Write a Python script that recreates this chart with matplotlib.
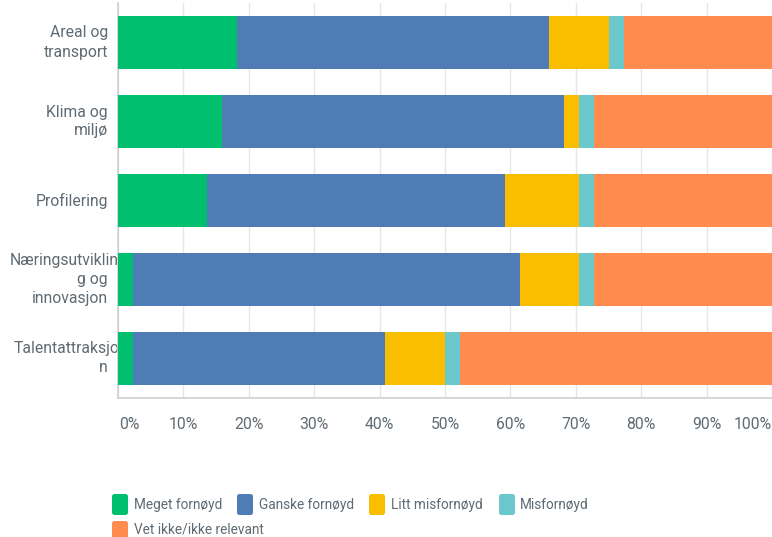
import matplotlib
matplotlib.use("Agg")
import matplotlib.pyplot as plt
from matplotlib.patches import FancyBboxPatch
from matplotlib.transforms import IdentityTransform, blended_transform_factory, offset_copy
import numpy as np

plt.rcParams['font.family'] = ['Roboto', 'DejaVu Sans']

categories = ["Areal og\ntransport", "Klima og\nmiljø", "Profilering",
              "Næringsutviklin\ng og\ninnovasjon", "Talentattraksjo\nn"]
series = ["Meget fornøyd", "Ganske fornøyd", "Litt misfornøyd", "Misfornøyd",
          "Vet ikke/ikke relevant"]
meget = [18.2, 15.9, 13.6, 2.3, 2.3]
ganske = [47.7, 52.3, 45.5, 59.1, 38.6]
litt = [9.1, 2.3, 11.4, 9.1, 9.1]
mis = [2.3, 2.3, 2.3, 2.3, 2.3]
vet = [22.7, 27.3, 27.3, 27.3, 47.7]
tick_vals = [0, 10, 20, 30, 40, 50, 60, 70, 80, 90, 100]
tick_labels = ["0%", "10%", "20%", "30%", "40%", "50%", "60%", "70%", "80%", "90%", "100%"]

colors = ["#00BF6F", "#507CB6", "#F9BE00", "#6BC8CD", "#FF8B4F"]
text_color = "#5f6a72"

W, H = 772, 537
fig = plt.figure(figsize=(W / 100, H / 100), dpi=100)
ax = fig.add_axes([118 / W, 1 - 398 / H, 1 - 118 / W, (398 - 3) / H])

y = np.arange(len(categories))
left = np.zeros(len(categories))
for vals, c in zip([meget, ganske, litt, mis, vet], colors):
    ax.barh(y, vals, left=left, height=0.66, color=c, linewidth=0, zorder=3)
    left += np.array(vals)

ax.set_xlim(0, 100)
ax.set_ylim(len(categories) - 0.5, -0.5)
ax.set_xticks(tick_vals)
ax.set_xticklabels(tick_labels)
ax.grid(axis='x', color='#e6e6e6', lw=1, zorder=0)
ax.set_axisbelow(True)
for s in ['top', 'right']:
    ax.spines[s].set_visible(False)
for s in ['left', 'bottom']:
    ax.spines[s].set_color('#cfcfcf')
    ax.spines[s].set_linewidth(1.2)
ax.tick_params(axis='x', length=0, pad=13.5, labelsize=11.3, labelcolor=text_color)
ax.tick_params(axis='y', length=0, labelleft=False)
ax.set_yticks([])
labs = ax.get_xticklabels()
labs[0].set_ha('left')
labs[0].set_transform(offset_copy(labs[0].get_transform(), fig=fig, x=1, y=0, units='dots'))
labs[-1].set_ha('right')

# category labels (wrapped like the reference)
tr = blended_transform_factory(ax.transAxes, ax.transData)
line_h = 19
for yi, cat in zip(y, categories):
    lines = cat.split("\n")
    n = len(lines)
    for i, ln in enumerate(lines):
        dy = -(i - (n - 1) / 2) * line_h
        dx = -10 if len(ln) < 12 else 1
        t = offset_copy(tr, fig=fig, x=dx, y=dy, units='dots')
        ax.text(0, yi, ln, transform=t, ha='right', va='center', fontsize=11.3,
                color=text_color, zorder=1, clip_on=False)

# legend (flow layout like the reference)
items = [(112, 22, 134, 28.5), (237, 22, 259, 28.5), (369, 22, 391, 28.5), (499, 22, 520, 28.5),
         (112, -5, 134, 3.5)]
for (px, py, tx, ty), name, c in zip(items, series, colors):
    p = FancyBboxPatch((px, py), 16, 21, boxstyle="round,pad=0,rounding_size=2.5",
                       transform=IdentityTransform(), facecolor=c, edgecolor='none')
    fig.patches.append(p)
    fig.text(tx / W, ty / H, name, ha='left', va='baseline', fontsize=9.8, color=text_color)

fig.savefig("out.png", dpi=100)
